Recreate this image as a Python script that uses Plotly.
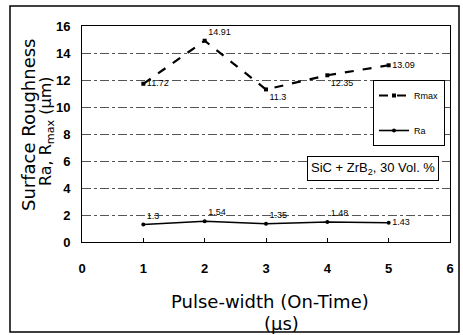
import plotly.graph_objects as go

pulse_width = [1, 2, 3, 4, 5]
rmax_values = [11.72, 14.91, 11.3, 12.35, 13.09]
ra_values = [1.3, 1.54, 1.35, 1.48, 1.43]
rmax_labels = ["11.72", "14.91", "11.3", "12.35", "13.09"]
ra_labels = ["1.3", "1.54", "1.35", "1.48", "1.43"]
x_ticks = [0, 1, 2, 3, 4, 5, 6]
y_ticks = [0, 2, 4, 6, 8, 10, 12, 14, 16]

W, H = 463, 335
L, R, T, B = 82, 13, 26, 93
pw, ph = W - L - R, H - T - B

def px(xp):
    return (xp - L) / pw

def py(yp):
    return (H - B - yp) / ph

lab_font = dict(family="Liberation Sans, Arial", size=9, color="black")

fig = go.Figure()
fig.add_trace(go.Scatter(
    x=pulse_width, y=rmax_values, name="Rmax", mode="lines+markers+text",
    line=dict(color="black", width=2.2, dash="dash"),
    marker=dict(color="black", size=4, symbol="square"),
    text=rmax_labels,
    textposition=["middle right", "top right", "bottom right", "bottom right", "middle right"],
    textfont=lab_font, legendgroup="a",
))
fig.add_trace(go.Scatter(
    x=pulse_width, y=ra_values, name="Ra", mode="lines+markers+text",
    line=dict(color="black", width=1.6),
    marker=dict(color="black", size=4),
    text=ra_labels,
    textposition=["top right", "top right", "top right", "top right", "middle right"],
    textfont=lab_font, legendgroup="b",
))

fig.update_layout(
    width=W, height=H,
    margin=dict(l=L, r=R, t=T, b=B, autoexpand=False),
    paper_bgcolor="white", plot_bgcolor="white",
    font=dict(family="Liberation Sans, Arial", color="black"),
    showlegend=True,
    legend=dict(x=px(445), y=py(80), xanchor="right", yanchor="top",
                bgcolor="white", bordercolor="black", borderwidth=1,
                font=dict(family="Liberation Sans, Arial", size=9),
                tracegroupgap=16, itemwidth=30),
    xaxis=dict(range=[0, 6], tickvals=x_ticks, showgrid=False, zeroline=False,
               showline=True, linecolor="black", linewidth=1, mirror=True,
               ticks="inside", ticklen=4, tickcolor="black",
               tickfont=dict(size=13, family="Liberation Sans", weight="bold"),
               ticklabelstandoff=14),
    yaxis=dict(range=[0, 16], tickvals=y_ticks, showgrid=True, gridcolor="#555",
               griddash="dashdot", gridwidth=1, zeroline=False,
               showline=True, linecolor="black", linewidth=1, mirror=True,
               ticks="", tickfont=dict(size=13, family="Liberation Sans", weight="bold"),
               ticklabelstandoff=8),
)

ann = []
ann.append(dict(x=px(28), y=py(124), xref="paper", yref="paper", text="Surface Roughness",
                xanchor="center", yanchor="middle",
                textangle=-90, showarrow=False, font=dict(size=18, family="DejaVu Sans")))
ann.append(dict(x=px(46), y=py(131), xref="paper", yref="paper", text="Ra, R<sub>max</sub> (μm)",
                xanchor="center", yanchor="middle",
                textangle=-90, showarrow=False, font=dict(size=16, family="DejaVu Sans")))
ann.append(dict(x=px(270), y=py(301), xref="paper", yref="paper", text="Pulse-width (On-Time)",
                xanchor="center", yanchor="middle",
                showarrow=False, font=dict(size=18, family="DejaVu Sans")))
ann.append(dict(x=px(281), y=py(323), xref="paper", yref="paper", text="(μs)",
                xanchor="center", yanchor="middle",
                showarrow=False, font=dict(size=18, family="DejaVu Sans")))
ann.append(dict(x=4.74, y=5.42, xref="x", yref="y", text="SiC + ZrB<sub>2</sub>, 30 Vol. %",
                showarrow=False, bordercolor="black", borderwidth=1, borderpad=3, bgcolor="white",
                font=dict(size=13, family="Liberation Sans")))
fig.update_layout(annotations=ann)

fig.add_shape(type="rect", xref="paper", yref="paper",
              x0=px(10), x1=px(459), y0=py(332), y1=py(6),
              line=dict(color="black", width=1.5), layer="below")

fig.write_html("out.html")
